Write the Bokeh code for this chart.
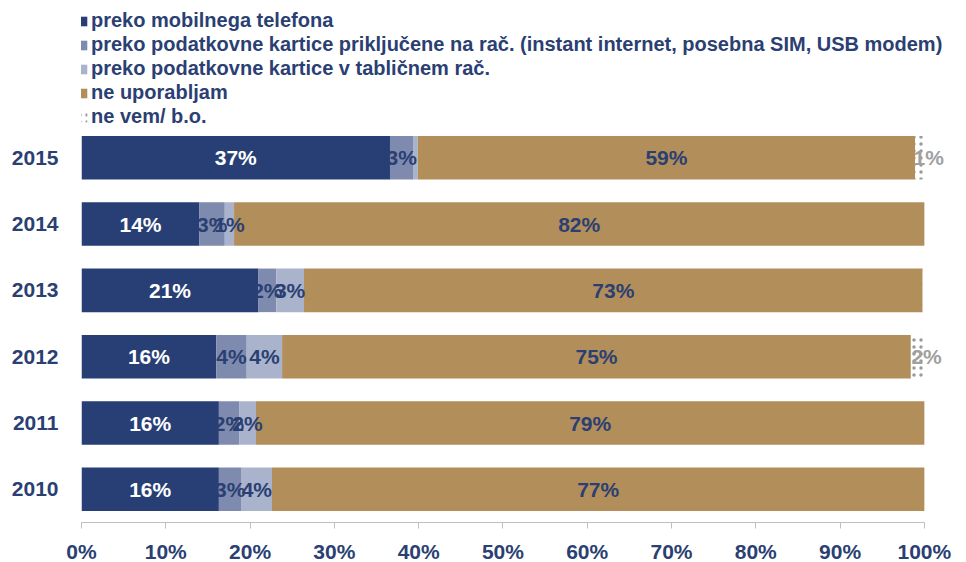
from bokeh.plotting import figure
from bokeh.models import (ColumnDataSource, Range1d, FixedTicker,
                          PrintfTickFormatter, Legend, LegendItem, LabelSet)
from bokeh.core.properties import value
from bokeh.embed import file_html
from bokeh.resources import INLINE

# ---- data ----
years = ["2010", "2011", "2012", "2013", "2014", "2015"]
series = ["preko mobilnega telefona",
          "preko podatkovne kartice priključene na rač. (instant internet, posebna SIM, USB modem)",
          "preko podatkovne kartice v tabličnem rač.",
          "ne uporabljam",
          "ne vem/ b.o."]
mobilni = [16.3, 16.3, 16.0, 21.0, 14.0, 36.6]
kartica = [2.7, 2.4, 3.6, 2.1, 3.0, 2.8]
tablica = [3.6, 2.0, 4.2, 3.3, 1.1, 0.5]
ne_uporabljam = [77.4, 79.3, 74.6, 73.4, 81.9, 59.0]
ne_vem = [0.0, 0.0, 1.6, 0.2, 0.0, 1.1]
x_ticks = [0, 10, 20, 30, 40, 50, 60, 70, 80, 90, 100]

# ---- styles ----
NAVY = "#2B3F73"
colors = ["#283F75", "#7F8BAE", "#A9B3CB", "#B28E5A", "#FFFFFF"]
label_colors = ["#FFFFFF", NAVY, NAVY, NAVY, "#A0A0A0"]
label_xoff = [0, 0, 0, 0, 9]
FONT = "Liberation Sans"
X_MAX = 105
ROW_PX = 66.33                 # pixels per year row
FRAME_W, FRAME_H = 885, 522
LEFT = 81
LEG_Y = 394

ypos = list(range(len(years)))
keys = ["s0", "s1", "s2", "s3", "s4"]
values = [mobilni, kartica, tablica, ne_uporabljam, ne_vem]
data = {"y": ypos}
for k, v in zip(keys, values):
    data[k] = v
source = ColumnDataSource(data)

p = figure(width=None, height=None, frame_width=FRAME_W, frame_height=FRAME_H,
           output_backend="svg", toolbar_location=None,
           y_range=Range1d(-0.5, -0.5 + FRAME_H / ROW_PX),
           x_range=Range1d(0, X_MAX),
           min_border_left=LEFT, min_border_right=0, min_border_top=0, min_border_bottom=20)

renderers = p.hbar_stack(keys, y="y", height=0.657, source=source,
                         fill_color=colors, line_color=None,
                         hatch_pattern=[" ", " ", " ", " ", "dot"],
                         hatch_color="#9A9A9A", hatch_scale=7, hatch_weight=1.5)

# labels at segment centers
for i, k in enumerate(keys):
    xs, labs = [], []
    for j in range(len(years)):
        left = sum(values[m][j] for m in range(i))
        v = values[i][j]
        xs.append(left + v / 2)
        labs.append(f"{int(v + 0.5)}%" if v >= 0.8 else "")
    ls = ColumnDataSource(dict(x=xs, y=ypos, t=labs))
    p.add_layout(LabelSet(x="x", y="y", text="t", source=ls, x_offset=label_xoff[i],
                          text_align="center", text_baseline="middle",
                          text_font=value(FONT), text_font_style="bold",
                          text_font_size="21px", text_color=label_colors[i]))

legend = Legend(items=[LegendItem(label=s, renderers=[r]) for s, r in zip(series, renderers)],
                location=(-5, LEG_Y), orientation="vertical",
                glyph_width=12, glyph_height=12, label_height=20, label_standoff=3,
                spacing=1, padding=0, margin=0, border_line_color=None,
                background_fill_alpha=0,
                label_text_font=FONT, label_text_font_style="bold",
                label_text_font_size="20px", label_text_color=NAVY)
p.add_layout(legend)

p.xaxis.bounds = (0, 100)
p.xaxis.ticker = FixedTicker(ticks=x_ticks)
p.xaxis.formatter = PrintfTickFormatter(format="%d%%")
p.xaxis.axis_line_color = "#BFBFBF"
p.xaxis.major_tick_line_color = "#BFBFBF"
p.xaxis.major_tick_out = 6
p.xaxis.major_tick_in = 0
p.xaxis.minor_tick_line_color = None
p.xaxis.major_label_standoff = 11
p.xaxis.major_label_text_font = FONT
p.xaxis.major_label_text_font_style = "bold"
p.xaxis.major_label_text_font_size = "21px"
p.xaxis.major_label_text_color = NAVY

p.yaxis.ticker = FixedTicker(ticks=ypos)
p.yaxis.major_label_overrides = {i: y for i, y in zip(ypos, years)}
p.yaxis.axis_line_color = None
p.yaxis.major_tick_line_color = None
p.yaxis.minor_tick_line_color = None
p.yaxis.major_label_standoff = 17
p.yaxis.major_label_text_font = FONT
p.yaxis.major_label_text_font_style = "bold"
p.yaxis.major_label_text_font_size = "21px"
p.yaxis.major_label_text_color = NAVY

p.xgrid.grid_line_color = None
p.ygrid.grid_line_color = None
p.outline_line_color = None
p.background_fill_color = "white"
p.border_fill_color = "white"

open("out.html", "w").write(file_html(p, INLINE))
